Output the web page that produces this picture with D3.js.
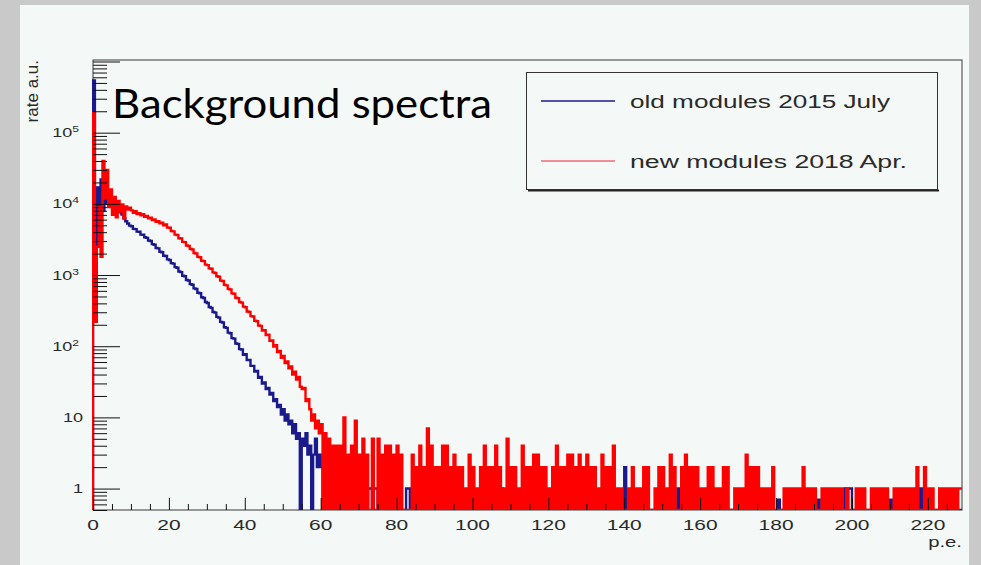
<!DOCTYPE html>
<html>
<head>
<meta charset="utf-8">
<script src="https://cdn.jsdelivr.net/npm/d3@7"></script>
<style>
	body { margin: 0; background: #c9c9c9; }
	svg { display: block; }
</style>
</head>
<body>
<script>
const w = 981;
const h = 565;
const frame = { left: 93, top: 60, right: 962, bottom: 510 };

// * DATA (rate a.u. per 0.5 p.e. bin)
const binWidth = 0.5;
const xTickValues = [0, 20, 40, 60, 80, 100, 120, 140, 160, 180, 200, 220];
const yDecades = [1, 10, 100, 1000, 10000, 100000];
const seriesNames = ["old modules 2015 July", "new modules 2018 Apr."];

// old modules, bins 0 - 139 (0 - 70 p.e.)
const oldHead = [
	540000, 1800, 17000, 3500, 22000, 8000, 15000, 10000, 13000, 9500, 11500, 8800, 9800, 8200, 7600, 7100, 6300, 5700, 5300, 4950,
	4850, 4450, 4420, 4080, 4050, 3700, 3680, 3390, 3330, 3050, 3010, 2720, 2670, 2400, 2370, 2120, 2090, 1870, 1850, 1660,
	1630, 1470, 1445, 1290, 1265, 1120, 1100, 975, 960, 850, 840, 745, 730, 650, 638, 565, 556, 488, 475, 418,
	405, 356, 346, 302, 296, 258, 252, 220, 215, 185, 181, 155, 152, 130, 128, 109, 108, 91, 90, 76,
	77, 64, 64, 53, 53, 44, 45, 36, 37, 30, 31, 25, 26, 21, 22, 17, 18, 14, 15, 11,
	13, 9, 11, 8, 9, 6, 8, 5, 6, 0, 5, 4, 6, 3, 4, 0, 3, 5, 2, 3,
	2, 0, 3, 1, 2, 0, 1, 2, 1, 1, 0, 1, 0, 0, 0, 0, 0, 0, 1, 1,
];
// old modules above 70 p.e.: [bin lower edge p.e., rate], all other bins empty
const oldTailHits = [
	[72.5, 1], [73, 1], [74, 1], [74.5, 1], [82.5, 1], [83, 1], [90.5, 1],
	[103.5, 2], [107.5, 1], [110.5, 1], [140, 2], [144.5, 0.7], [154, 1],
	[174.5, 0.7], [180.5, 0.7], [191, 0.7], [198, 1], [199, 1], [199.5, 1],
	[210, 0.7], [217, 1], [218, 1],
];

// new modules, bins 0 - 457 (0 - 229 p.e.), one row = 10 p.e.
const newModules = [
	190000, 220, 2500, 9000, 1800, 40000, 12000, 30000, 9000, 16000, 7000, 12500, 6500, 11000, 7800, 9800, 6200, 9200, 8300, 8800,
	8100, 7500, 7900, 7200, 7400, 6900, 7150, 6600, 6750, 6250, 6380, 5900, 6050, 5600, 5700, 5350, 5420, 5000, 5120, 4650,
	4620, 4150, 4100, 3700, 3650, 3280, 3260, 2920, 2900, 2600, 2560, 2330, 2290, 2040, 2010, 1800, 1780, 1590, 1570, 1400,
	1380, 1240, 1225, 1090, 1070, 960, 945, 835, 825, 728, 715, 640, 625, 552, 545, 480, 472, 418, 410, 360,
	352, 308, 303, 265, 262, 228, 224, 195, 193, 166, 168, 143, 145, 119, 121, 99, 103, 83, 86, 69,
	73, 58, 61, 49, 52, 40, 44, 34, 37, 27, 25, 26, 17, 18, 13, 9, 11, 7, 9, 6,
	8, 0, 6, 0, 5, 0, 4, 0, 4, 0, 4, 0, 10, 0, 3, 0, 4, 0, 9, 0,
	3, 0, 5, 0, 3, 0, 0, 5, 0, 0, 5, 0, 3, 0, 4, 0, 4, 0, 3, 0,
	4, 0, 3, 0, 0, 0, 0, 0, 3, 0, 2, 0, 4, 0, 2, 0, 7, 0, 4, 0,
	2, 0, 2, 0, 4, 0, 4, 0, 2, 0, 3, 0, 2, 0, 2, 0, 1, 0, 3, 0,
	2, 0, 1, 0, 2, 0, 4, 0, 2, 0, 2, 0, 4, 0, 2, 0, 1, 0, 5, 0,
	2, 0, 2, 0, 1, 0, 4, 0, 2, 0, 2, 0, 3, 0, 3, 0, 2, 0, 2, 0,
	1, 0, 2, 0, 4, 0, 2, 0, 2, 0, 3, 0, 3, 0, 2, 0, 3, 0, 2, 0,
	3, 0, 2, 0, 2, 0, 1, 0, 3, 0, 2, 0, 2, 0, 4, 0, 1, 0, 1, 0,
	0, 0, 1, 0, 2, 0, 1, 0, 1, 0, 2, 0, 2, 0, 0, 0, 1, 0, 2, 0,
	2, 0, 1, 0, 3, 0, 2, 0, 0, 0, 2, 0, 3, 0, 2, 0, 2, 0, 2, 0,
	1, 0, 1, 0, 2, 0, 2, 0, 1, 0, 1, 0, 2, 0, 2, 0, 0, 0, 1, 0,
	1, 0, 1, 0, 3, 0, 2, 0, 2, 0, 2, 0, 1, 0, 1, 0, 1, 0, 2, 0,
	0, 0, 0, 0, 1, 0, 1, 0, 1, 0, 1, 0, 1, 0, 2, 0, 1, 0, 1, 0,
	1, 0, 0, 0, 1, 0, 1, 0, 1, 0, 1, 0, 1, 0, 1, 0, 0, 1, 0, 0,
	0, 0, 1, 0, 1, 0, 1, 0, 0, 0, 1, 0, 1, 0, 1, 0, 1, 0, 1, 0,
	0, 0, 1, 0, 1, 0, 1, 0, 1, 0, 1, 0, 1, 0, 2, 0, 0, 0, 2, 0,
	1, 0, 1, 0, 0, 0, 1, 0, 1, 0, 1, 0, 1, 0, 1, 0, 1, 1,
];

const oldModules = newModules.map((d, i) => (i < oldHead.length ? oldHead[i] : 0));
oldTailHits.forEach(([edge, v]) => (oldModules[Math.round(edge / binWidth)] = v));

// * SVG BASE SETUP
const svg = d3.select("body").append("svg").attr("width", w).attr("height", h);
svg.append("rect").attr("x", 20).attr("y", 5).attr("width", 949).attr("height", h - 5).attr("fill", "#f4f8f6");

// * SCALES
const xScale = d3.scaleLinear().domain([0, 229]).range([frame.left, frame.right]);
const yScale = d3.scaleLog().domain([0.5, 1.05e6]).range([frame.bottom, frame.top]).clamp(true);

// * FRAME
svg.append("rect")
	.attr("x", frame.left)
	.attr("y", frame.top)
	.attr("width", frame.right - frame.left)
	.attr("height", frame.bottom - frame.top)
	.attr("fill", "none")
	.attr("stroke", "#3a3a3a")
	.attr("stroke-width", 1);

// * HISTOGRAMS (ROOT style step outline, empty bins drop to the frame bottom)
svg.append("clipPath").attr("id", "plot-clip")
	.append("rect")
	.attr("x", frame.left - 1)
	.attr("y", frame.top)
	.attr("width", frame.right - frame.left + 1)
	.attr("height", frame.bottom - frame.top);

function histPath(values) {
	const pts = [[xScale(0), frame.bottom]];
	values.forEach((v, i) => pts.push([xScale(i * binWidth), v > 0 ? yScale(v) : frame.bottom]));
	pts.push([xScale(values.length * binWidth), pts[pts.length - 1][1]]);
	return d3.line().curve(d3.curveStepAfter)(pts);
}

const hist = svg.append("g").attr("clip-path", "url(#plot-clip)");
hist.append("path")
	.attr("d", histPath(oldModules))
	.attr("fill", "none")
	.attr("stroke", "#1a1a8c")
	.attr("stroke-width", 2.4);
hist.append("path")
	.attr("d", histPath(newModules))
	.attr("fill", "none")
	.attr("stroke", "#ff0000")
	.attr("stroke-width", 2.4);

// * AXES (ticks inside the frame)
const yMinor = [];
for (let k = -1; k <= 5; k++) {
	for (let m = 2; m <= 9; m++) {
		const v = m * Math.pow(10, k);
		if (v >= 0.5 && v <= 1.05e6) yMinor.push(v);
	}
}
const noDomain = (g) => g.select(".domain").remove();
svg.append("g")
	.attr("transform", "translate(" + frame.left + ",0)")
	.attr("color", "#111")
	.call(d3.axisRight(yScale).tickValues(yMinor).tickSize(14).tickFormat(""))
	.call(noDomain);
svg.append("g")
	.attr("transform", "translate(" + frame.left + ",0)")
	.attr("color", "#111")
	.call(d3.axisRight(yScale).tickValues(yDecades.concat([1e6])).tickSize(27).tickFormat(""))
	.call(noDomain);

const xMinor = d3.range(0, 229, 5).filter((v) => v % 20 !== 0);
svg.append("g")
	.attr("transform", "translate(0," + frame.bottom + ")")
	.attr("color", "#111")
	.call(d3.axisTop(xScale).tickValues(xMinor).tickSize(6).tickFormat(""))
	.call(noDomain);
svg.append("g")
	.attr("transform", "translate(0," + frame.bottom + ")")
	.attr("color", "#111")
	.call(d3.axisTop(xScale).tickValues(xTickValues).tickSize(12).tickFormat(""))
	.call(noDomain);

// * TICK LABELS (the picture is stretched sideways, so the ROOT texts are too)
const rootFont = "'Liberation Sans', Arial, sans-serif";
svg.append("g")
	.selectAll("g")
	.data(xTickValues)
	.enter()
	.append("g")
	.attr("transform", (d) => "translate(" + xScale(d) + ",530) scale(1.36,1)")
	.append("text")
	.attr("text-anchor", "middle")
	.attr("font-family", rootFont)
	.attr("font-size", 15.4)
	.attr("fill", "#2a2a2a")
	.text((d) => d);

const yLabels = svg.append("g")
	.selectAll("g")
	.data(yDecades)
	.enter()
	.append("g")
	.attr("transform", (d) => "translate(" + (d >= 100 ? 79 : 83) + "," + (yScale(d) + 4.5) + ") scale(1.43,1)")
	.append("text")
	.attr("text-anchor", "end")
	.attr("font-family", rootFont)
	.attr("font-size", 12.6)
	.attr("fill", "#2a2a2a");
yLabels.append("tspan").text((d) => (d >= 100 ? "10" : d));
yLabels.filter((d) => d >= 100)
	.append("tspan")
	.attr("dy", -5)
	.attr("font-size", 8.5)
	.text((d) => Math.round(Math.log10(d)));

// * AXIS TITLES
svg.append("text")
	.attr("transform", "translate(38," + frame.top + ") rotate(-90)")
	.attr("text-anchor", "end")
	.attr("font-family", rootFont)
	.attr("font-size", 17)
	.attr("fill", "#2a2a2a")
	.text("rate a.u.");
svg.append("g")
	.attr("transform", "translate(" + frame.right + ",547) scale(1.45,1)")
	.append("text")
	.attr("text-anchor", "end")
	.attr("font-family", rootFont)
	.attr("font-size", 14)
	.attr("fill", "#2a2a2a")
	.text("p.e.");

// * LEGEND
const legend = svg.append("g").attr("id", "legend");
legend.append("line")
	.attr("x1", 528).attr("x2", 939)
	.attr("y1", 190.5).attr("y2", 190.5)
	.attr("stroke", "#222").attr("stroke-width", 2);
legend.append("rect")
	.attr("x", 526.5).attr("y", 72.5)
	.attr("width", 411).attr("height", 117)
	.attr("fill", "#f4f8f6")
	.attr("stroke", "#333")
	.attr("stroke-width", 1);
const legendColors = ["#1a1a8c", "#f06a7a"];
const legendWidths = [260, 277];
const items = legend.selectAll("g.legend-item")
	.data(seriesNames)
	.enter()
	.append("g")
	.attr("class", "legend-item")
	.attr("transform", (d, i) => "translate(0," + (101 + i * 60) + ")");
items.append("line")
	.attr("x1", 541).attr("x2", 615)
	.attr("stroke", (d, i) => legendColors[i])
	.attr("stroke-width", 1.6);
items.append("text")
	.attr("x", 630)
	.attr("y", 6.5)
	.attr("font-family", rootFont)
	.attr("font-size", 18)
	.attr("fill", "#2a2a2a")
	.attr("textLength", (d, i) => legendWidths[i])
	.attr("lengthAdjust", "spacingAndGlyphs")
	.text((d) => d);

// * SLIDE TITLE
svg.append("text")
	.attr("x", 112)
	.attr("y", 118)
	.attr("font-family", "Lato, 'Open Sans', sans-serif")
	.attr("font-size", 41)
	.attr("fill", "#000")
	.attr("textLength", 380)
	.attr("lengthAdjust", "spacingAndGlyphs")
	.text("Background spectra");
</script>
</body>
</html>
